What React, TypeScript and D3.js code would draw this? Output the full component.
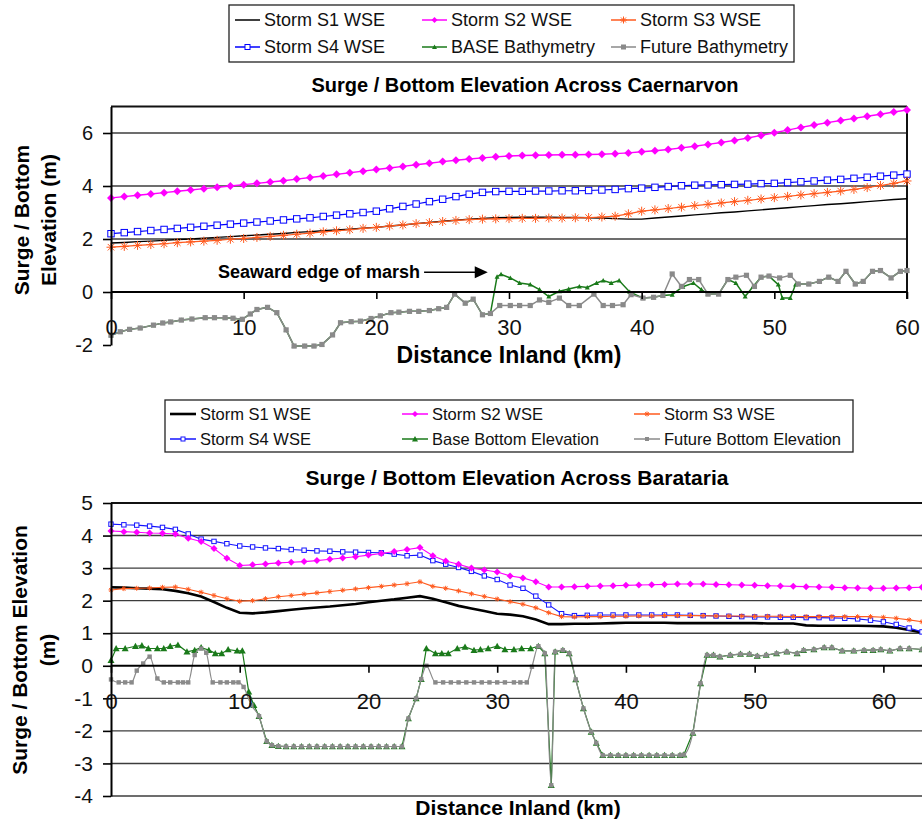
import { useEffect, useRef } from "react";
import * as d3 from "d3";

type Pt = [number, number];

// ---------- Caernarvon (upper panel) ----------
const caeKm = [0, 1, 2, 3, 4, 5, 6, 7, 8, 9, 10, 11, 12, 13, 14, 15, 16, 17, 18, 19, 20, 21, 22, 23, 24, 25, 26, 27, 28, 29, 30, 31, 32, 33, 34, 35, 36, 37, 38, 39, 40, 41, 42, 43, 44, 45, 46, 47, 48, 49, 50, 51, 52, 53, 54, 55, 56, 57, 58, 59, 60];
const caeS1 = [1.85, 1.87, 1.9, 1.92, 1.95, 1.98, 2.0, 2.03, 2.06, 2.09, 2.12, 2.15, 2.18, 2.21, 2.25, 2.28, 2.31, 2.34, 2.37, 2.41, 2.44, 2.49, 2.53, 2.58, 2.62, 2.67, 2.71, 2.75, 2.78, 2.8, 2.81, 2.82, 2.82, 2.82, 2.81, 2.81, 2.8, 2.79, 2.77, 2.75, 2.75, 2.79, 2.83, 2.87, 2.91, 2.95, 2.99, 3.02, 3.06, 3.1, 3.14, 3.18, 3.22, 3.26, 3.3, 3.33, 3.37, 3.41, 3.45, 3.49, 3.52];
const caeS2 = [3.55, 3.6, 3.65, 3.7, 3.75, 3.8, 3.85, 3.9, 3.95, 4.0, 4.05, 4.1, 4.15, 4.2, 4.26, 4.32, 4.38, 4.44, 4.5, 4.56, 4.62, 4.68, 4.74, 4.8, 4.86, 4.92, 4.97, 5.02, 5.06, 5.1, 5.13, 5.15, 5.16, 5.17, 5.18, 5.18, 5.19, 5.2, 5.22, 5.25, 5.29, 5.33, 5.38, 5.44, 5.5, 5.57, 5.64, 5.72, 5.81, 5.91, 6.01, 6.11, 6.21, 6.3, 6.39, 6.47, 6.55, 6.63, 6.71, 6.79, 6.87];
const caeS3 = [1.69, 1.72, 1.76, 1.79, 1.82, 1.86, 1.89, 1.92, 1.95, 1.99, 2.02, 2.06, 2.1, 2.14, 2.18, 2.22, 2.27, 2.31, 2.35, 2.4, 2.44, 2.49, 2.53, 2.58, 2.62, 2.66, 2.7, 2.73, 2.75, 2.76, 2.77, 2.78, 2.78, 2.79, 2.79, 2.8, 2.81, 2.83, 2.86, 2.95, 3.05, 3.1, 3.15, 3.2, 3.26, 3.31, 3.36, 3.41, 3.46, 3.51, 3.56, 3.61, 3.66, 3.71, 3.76, 3.81, 3.87, 3.94, 4.02, 4.1, 4.19];
const caeS4 = [2.2, 2.24, 2.28, 2.32, 2.36, 2.4, 2.44, 2.48, 2.52, 2.56, 2.6, 2.64, 2.68, 2.72, 2.76, 2.8, 2.85, 2.9, 2.95, 3.0, 3.05, 3.14, 3.23, 3.32, 3.41, 3.5, 3.6, 3.69, 3.76, 3.79, 3.8, 3.8, 3.81, 3.81, 3.82, 3.82, 3.83, 3.85, 3.87, 3.9, 3.92, 3.95, 3.98, 4.01, 4.03, 4.04, 4.05, 4.06, 4.07, 4.09, 4.1, 4.13, 4.16, 4.19, 4.22, 4.25, 4.29, 4.33, 4.37, 4.41, 4.45];
const caeBase: Pt[] = [[0, -1.63], [0.7, -1.5], [1.4, -1.41], [2.2, -1.36], [3.2, -1.25], [3.9, -1.17], [4.5, -1.13], [5.3, -1.06], [6.1, -1.02], [7.1, -0.97], [7.8, -0.97], [8.6, -0.97], [9.2, -0.99], [9.9, -1.03], [10.5, -0.83], [11, -0.66], [11.8, -0.58], [12.5, -0.78], [13.2, -1.43], [13.8, -2.04], [14.6, -2.04], [15.3, -2.04], [15.9, -1.98], [16.7, -1.62], [17.3, -1.16], [18.1, -1.12], [18.8, -1.1], [19.6, -1.0], [20.3, -0.9], [21.1, -0.78], [21.7, -0.76], [22.5, -0.73], [23.2, -0.73], [24, -0.7], [24.7, -0.63], [25.3, -0.58], [25.9, -0.08], [26.7, -0.42], [27.3, -0.27], [28, -0.86], [28.6, -0.81], [29.1, 0.58], [29.4, 0.67], [30.1, 0.53], [30.8, 0.34], [31.6, 0.28], [32.3, 0.09], [33, -0.17], [33.8, 0.03], [34.5, 0.11], [35.3, 0.21], [35.9, 0.17], [36.6, 0.34], [37.1, 0.43], [37.7, 0.34], [38.3, 0.43], [39.1, 0], [40.1, -0.23], [40.9, -0.2], [41.6, -0.13], [42.3, -0.1], [43.1, 0.2], [43.9, 0.34], [44.5, 0.09], [45, -0.08], [45.8, -0.08], [46.5, 0.47], [47.1, 0.34], [47.8, -0.17], [48.4, 0.21], [49, 0.56], [49.6, 0.6], [50.3, 0.28], [50.6, -0.23], [51.2, -0.23], [51.6, 0.28], [51.8, 0.3], [52.6, 0.3], [53.4, 0.4], [54.1, 0.56], [54.8, 0.4], [55.4, 0.78], [56.1, 0.3], [56.7, 0.4], [57.4, 0.78], [58, 0.81], [58.8, 0.53], [59.5, 0.78], [60, 0.81]];
const caeFuture: Pt[] = [[0, -1.63], [0.7, -1.5], [1.4, -1.41], [2.2, -1.36], [3.2, -1.25], [3.9, -1.17], [4.5, -1.13], [5.3, -1.06], [6.1, -1.02], [7.1, -0.97], [7.8, -0.97], [8.6, -0.97], [9.2, -0.99], [9.9, -1.03], [10.5, -0.83], [11, -0.66], [11.8, -0.58], [12.5, -0.78], [13.2, -1.43], [13.8, -2.04], [14.6, -2.04], [15.3, -2.04], [15.9, -1.98], [16.7, -1.62], [17.3, -1.16], [18.1, -1.12], [18.8, -1.1], [19.6, -1.0], [20.3, -0.9], [21.1, -0.78], [21.7, -0.76], [22.5, -0.73], [23.2, -0.73], [24, -0.7], [24.7, -0.63], [25.3, -0.58], [25.9, -0.08], [26.7, -0.42], [27.3, -0.27], [28, -0.86], [28.6, -0.81], [29.3, -0.51], [30.1, -0.51], [30.8, -0.51], [31.6, -0.51], [32.3, -0.3], [33, -0.39], [33.8, -0.23], [34.5, -0.51], [35.3, -0.51], [36.4, -0.08], [37.1, -0.51], [37.8, -0.51], [38.6, -0.48], [39.2, -0.1], [40.1, -0.23], [40.9, -0.2], [41.6, -0.13], [42.3, 0.68], [43, 0.21], [43.6, 0.47], [44.3, 0.47], [45, -0.08], [45.8, -0.08], [46.5, 0.47], [47.1, 0.56], [47.9, 0.63], [48.5, 0.21], [49, 0.56], [49.6, 0.6], [50.4, 0.53], [51.2, 0.63], [51.8, 0.3], [52.6, 0.3], [53.4, 0.4], [54.1, 0.56], [54.8, 0.4], [55.4, 0.78], [56.1, 0.3], [56.7, 0.4], [57.4, 0.78], [58, 0.81], [58.8, 0.53], [59.5, 0.78], [60, 0.81]];

// ---------- Barataria (lower panel) ----------
const barKm = [0, 1, 2, 3, 4, 5, 6, 7, 8, 9, 10, 11, 12, 13, 14, 15, 16, 17, 18, 19, 20, 21, 22, 23, 24, 25, 26, 27, 28, 29, 30, 31, 32, 33, 34, 35, 36, 37, 38, 39, 40, 41, 42, 43, 44, 45, 46, 47, 48, 49, 50, 51, 52, 53, 54, 55, 56, 57, 58, 59, 60, 61, 62, 63];
const barS1 = [2.41, 2.4, 2.38, 2.37, 2.35, 2.3, 2.23, 2.13, 1.96, 1.78, 1.63, 1.61, 1.64, 1.68, 1.72, 1.76, 1.79, 1.82, 1.86, 1.9, 1.95, 2.0, 2.04, 2.09, 2.14, 2.06, 1.95, 1.84, 1.76, 1.68, 1.6, 1.57, 1.52, 1.42, 1.28, 1.28, 1.29, 1.29, 1.3, 1.31, 1.32, 1.32, 1.32, 1.32, 1.31, 1.31, 1.31, 1.31, 1.31, 1.31, 1.31, 1.3, 1.3, 1.3, 1.24, 1.23, 1.23, 1.23, 1.23, 1.22, 1.21, 1.17, 1.1, 1.02];
const barS2 = [4.14, 4.12, 4.1, 4.08, 4.07, 4.05, 3.92, 3.82, 3.6, 3.3, 3.08, 3.1, 3.13, 3.16, 3.18, 3.2, 3.23, 3.27, 3.31, 3.35, 3.4, 3.45, 3.51, 3.57, 3.63, 3.38, 3.22, 3.12, 3.0, 2.94, 2.88, 2.76, 2.7, 2.58, 2.42, 2.42, 2.43, 2.44, 2.45, 2.46, 2.47, 2.48, 2.49, 2.5, 2.51, 2.51, 2.51, 2.5, 2.49, 2.48, 2.47, 2.46, 2.45, 2.44, 2.43, 2.42, 2.41, 2.4, 2.39, 2.38, 2.38, 2.39, 2.4, 2.41];
const barS3 = [2.33, 2.37, 2.38, 2.39, 2.41, 2.42, 2.35, 2.26, 2.16, 2.06, 1.98, 2.0, 2.06, 2.12, 2.16, 2.2, 2.24, 2.28, 2.32, 2.36, 2.4, 2.44, 2.48, 2.52, 2.58, 2.44, 2.38, 2.3, 2.21, 2.13, 2.05, 1.97, 1.89, 1.78, 1.63, 1.51, 1.5, 1.51, 1.51, 1.52, 1.52, 1.53, 1.53, 1.54, 1.54, 1.54, 1.54, 1.53, 1.53, 1.53, 1.52, 1.52, 1.52, 1.51, 1.51, 1.51, 1.51, 1.51, 1.51, 1.51, 1.49, 1.46, 1.41, 1.35];
const barS4 = [4.35, 4.33, 4.32, 4.29, 4.25, 4.19, 4.05, 3.89, 3.82, 3.75, 3.68, 3.65, 3.62, 3.6, 3.57, 3.55, 3.53, 3.52, 3.5, 3.49, 3.48, 3.47, 3.43, 3.38, 3.4, 3.23, 3.12, 3.02, 2.9, 2.76, 2.65, 2.48, 2.38, 2.14, 1.87, 1.6, 1.54, 1.55, 1.56, 1.56, 1.56, 1.56, 1.56, 1.56, 1.56, 1.55, 1.54, 1.53, 1.52, 1.51, 1.5, 1.5, 1.49, 1.49, 1.48, 1.48, 1.47, 1.46, 1.44, 1.4, 1.35, 1.27, 1.16, 1.04];
const barBase: Pt[] = [[0, 0.17], [0.4, 0.53], [1.1, 0.53], [1.9, 0.6], [2.4, 0.62], [2.9, 0.53], [3.6, 0.53], [4.1, 0.53], [4.6, 0.6], [5.2, 0.64], [5.9, 0.43], [6.5, 0.48], [7, 0.56], [7.6, 0.48], [8.1, 0.38], [8.6, 0.38], [9.1, 0.5], [9.8, 0.46], [10.2, 0.46], [10.7, -0.8], [11.1, -1.21], [11.5, -1.55], [12.1, -2.32], [12.5, -2.44], [13, -2.47], [13.6, -2.48], [14.2, -2.48], [14.8, -2.48], [15.4, -2.48], [16, -2.48], [16.6, -2.48], [17.2, -2.48], [17.8, -2.48], [18.4, -2.48], [19, -2.48], [19.6, -2.48], [20.2, -2.48], [20.8, -2.48], [21.4, -2.48], [22, -2.48], [22.6, -2.48], [23.1, -1.62], [23.7, -1.0], [24.1, -0.41], [24.5, 0.53], [25.2, 0.38], [25.7, 0.38], [26.2, 0.38], [26.9, 0.53], [27.5, 0.58], [28.2, 0.48], [28.7, 0.5], [29.3, 0.53], [30, 0.6], [30.6, 0.5], [31.3, 0.5], [31.9, 0.53], [32.6, 0.53], [33.2, 0.6], [33.7, 0.38], [34.2, -3.67], [34.5, 0.43], [35.1, 0.48], [35.6, 0.38], [36.1, -0.42], [36.7, -1.31], [37.3, -2.03], [37.7, -2.37], [38.2, -2.75], [38.8, -2.75], [39.4, -2.75], [40, -2.75], [40.6, -2.75], [41.2, -2.75], [41.8, -2.75], [42.4, -2.75], [43, -2.75], [43.6, -2.75], [44.2, -2.75], [44.5, -2.73], [45.2, -2.06], [45.8, -0.54], [46.3, 0.33], [46.8, 0.33], [47.3, 0.28], [48.1, 0.33], [48.9, 0.36], [49.6, 0.36], [50.2, 0.3], [50.9, 0.33], [51.7, 0.38], [52.5, 0.43], [53.3, 0.38], [53.8, 0.48], [54.6, 0.5], [55.4, 0.56], [56, 0.56], [56.8, 0.46], [57.7, 0.46], [58.5, 0.48], [59.2, 0.48], [59.8, 0.5], [60.5, 0.46], [61.3, 0.53], [62, 0.53], [63, 0.5]];
const barFuture: Pt[] = [[0, -0.42], [0.6, -0.51], [1.1, -0.51], [1.6, -0.51], [2, -0.15], [2.5, 0.07], [3, 0.28], [3.6, -0.39], [4.1, -0.51], [4.6, -0.51], [5.2, -0.51], [5.6, -0.51], [6, -0.51], [6.5, 0.33], [7, 0.53], [7.4, 0.4], [7.9, -0.51], [8.5, -0.51], [9, -0.51], [9.5, -0.51], [9.9, -0.51], [10.3, -0.65], [10.9, -1.21], [11.5, -1.55], [12.1, -2.32], [12.5, -2.44], [13, -2.47], [13.6, -2.48], [14.2, -2.48], [14.8, -2.48], [15.4, -2.48], [16, -2.48], [16.6, -2.48], [17.2, -2.48], [17.8, -2.48], [18.4, -2.48], [19, -2.48], [19.6, -2.48], [20.2, -2.48], [20.8, -2.48], [21.4, -2.48], [22, -2.48], [22.6, -2.48], [23.1, -1.62], [23.7, -1.0], [24.1, -0.41], [24.5, 0], [25.2, -0.51], [25.8, -0.51], [26.4, -0.51], [27, -0.51], [27.6, -0.51], [28.2, -0.51], [28.8, -0.51], [29.4, -0.51], [30, -0.51], [30.6, -0.51], [31.3, -0.51], [31.8, -0.51], [32.3, -0.51], [32.7, -0.03], [33.2, 0.6], [33.7, 0.38], [34.2, -3.67], [34.5, 0.43], [35.1, 0.48], [35.6, 0.38], [36.1, -0.42], [36.7, -1.31], [37.3, -2.03], [37.7, -2.37], [38.2, -2.75], [38.8, -2.75], [39.4, -2.75], [40, -2.75], [40.6, -2.75], [41.2, -2.75], [41.8, -2.75], [42.4, -2.75], [43, -2.75], [43.6, -2.75], [44.2, -2.75], [44.5, -2.73], [45.2, -2.06], [45.8, -0.54], [46.3, 0.33], [46.8, 0.33], [47.3, 0.28], [48.1, 0.33], [48.9, 0.36], [49.6, 0.36], [50.2, 0.3], [50.9, 0.33], [51.7, 0.38], [52.5, 0.43], [53.3, 0.38], [53.8, 0.48], [54.6, 0.5], [55.4, 0.56], [56, 0.56], [56.8, 0.46], [57.7, 0.46], [58.5, 0.48], [59.2, 0.48], [59.8, 0.5], [60.5, 0.46], [61.3, 0.53], [62, 0.53], [63, 0.5]];

// ticks and labels
const caeXTicks = [0, 10, 20, 30, 40, 50, 60];
const caeYTicks = [-2, 0, 2, 4, 6];
const caeGrid = [2, 4, 6];
const barXTicks = [0, 10, 20, 30, 40, 50, 60];
const barYTicks = [-4, -3, -2, -1, 0, 1, 2, 3, 4, 5];
const barGrid = [-4, -3, -2, -1, 1, 2, 3, 4];
// legend order: S1, S2, S3 / S4, base, future
const caeNames = ["Storm S1 WSE", "Storm S2 WSE", "Storm S3 WSE", "Storm S4 WSE", "BASE Bathymetry", "Future Bathymetry"];
const barNames = ["Storm S1 WSE", "Storm S2 WSE", "Storm S3 WSE", "Storm S4 WSE", "Base Bottom Elevation", "Future Bottom Elevation"];

const FONT = "'Liberation Sans', Arial, Helvetica, sans-serif";

const zip = (km: number[], v: number[]): Pt[] => km.map((k, i) => [k, v[i]]);

const addMarker = (g: any, kind: string, cx: number, cy: number, s: number, color: string) => {
  if (kind === "diamond") {
    g.append("path")
      .attr("d", `M${cx},${cy - s}L${cx + s},${cy}L${cx},${cy + s}L${cx - s},${cy}Z`)
      .attr("fill", color);
  } else if (kind === "opensq") {
    g.append("rect")
      .attr("x", cx - s).attr("y", cy - s)
      .attr("width", 2 * s).attr("height", 2 * s)
      .attr("fill", "white").attr("stroke", color).attr("stroke-width", 1);
  } else if (kind === "square") {
    g.append("rect")
      .attr("x", cx - s).attr("y", cy - s)
      .attr("width", 2 * s).attr("height", 2 * s)
      .attr("fill", color);
  } else if (kind === "star") {
    const d = s * 0.72;
    g.append("path")
      .attr("d", `M${cx - s},${cy}L${cx + s},${cy}M${cx},${cy - s}L${cx},${cy + s}M${cx - d},${cy - d}L${cx + d},${cy + d}M${cx - d},${cy + d}L${cx + d},${cy - d}`)
      .attr("stroke", color).attr("stroke-width", 1).attr("fill", "none");
  } else if (kind === "triangle") {
    g.append("path")
      .attr("d", `M${cx},${cy - s}L${cx + s},${cy + s * 0.8}L${cx - s},${cy + s * 0.8}Z`)
      .attr("fill", color);
  }
};

const drawPanel = (svg: any, cfg: any) => {
  const x = d3.scaleLinear().domain(cfg.xDomain).range(cfg.xRange);
  const y = d3.scaleLinear().domain(cfg.yDomain).range(cfg.yRange);
  const g = svg.append("g");
  const [x0, x1] = cfg.xRange;

  // grid
  g.selectAll(".grid")
    .data(cfg.grid)
    .enter()
    .append("line")
    .attr("x1", x0).attr("x2", x1)
    .attr("y1", (d: number) => y(d)).attr("y2", (d: number) => y(d))
    .attr("stroke", "#3c3c3c").attr("stroke-width", 1.4);

  // top border
  g.append("line")
    .attr("x1", x0).attr("x2", x1)
    .attr("y1", y(cfg.yDomain[1])).attr("y2", y(cfg.yDomain[1]))
    .attr("stroke", "#111").attr("stroke-width", 2);
  if (cfg.rightBorder) {
    g.append("line")
      .attr("x1", x1).attr("x2", x1)
      .attr("y1", y(cfg.yDomain[1])).attr("y2", y(0) + 7)
      .attr("stroke", "#111").attr("stroke-width", 2);
  }

  // series, in drawing order
  cfg.series.forEach((s: any) => {
    const line = d3.line<Pt>().x((d) => x(d[0])).y((d) => y(d[1]));
    if (s.smooth) line.curve(d3.curveMonotoneX);
    g.append("path")
      .datum(s.pts)
      .attr("d", line)
      .attr("fill", "none")
      .attr("stroke", s.color)
      .attr("stroke-width", s.width);
    if (s.marker !== "none") {
      const mg = g.append("g");
      s.pts.forEach((p: Pt) => addMarker(mg, s.marker, x(p[0]), y(p[1]), s.msize, s.color));
    }
  });

  // axes
  const yAxis = g.append("g")
    .attr("transform", `translate(${x0},0)`)
    .call(d3.axisLeft(y).tickValues(cfg.yTicks).tickSize(8).tickSizeOuter(0).tickPadding(10).tickFormat((d: any) => String(d)));
  yAxis.select(".domain").attr("stroke", "#000").attr("stroke-width", 2);
  yAxis.selectAll(".tick line").attr("stroke", "#000").attr("stroke-width", 1.6);
  yAxis.selectAll("text").attr("font-size", cfg.yTickFont).attr("font-family", FONT).attr("fill", "#111");

  const xAxis = g.append("g")
    .attr("transform", `translate(0,${y(0)})`)
    .call(d3.axisBottom(x).tickValues(cfg.xTicks).tickSize(7).tickSizeOuter(0).tickFormat((d: any) => String(d)));
  xAxis.select(".domain").attr("stroke", "#000").attr("stroke-width", 2).attr("d", `M${x0},0H${x1}`);
  xAxis.selectAll(".tick line").attr("stroke", "#000").attr("stroke-width", 1.6);
  xAxis.selectAll("text")
    .attr("y", cfg.xLabelOffset).attr("dy", "0.35em")
    .attr("font-size", cfg.xTickFont).attr("font-family", FONT).attr("fill", "#111");

  // titles
  g.append("text")
    .attr("x", cfg.title.x).attr("y", cfg.title.y)
    .attr("text-anchor", "middle").attr("font-family", FONT).attr("font-weight", "bold")
    .attr("font-size", cfg.title.size).text(cfg.title.text);
  g.append("text")
    .attr("x", cfg.xTitle.x).attr("y", cfg.xTitle.y)
    .attr("text-anchor", "middle").attr("font-family", FONT).attr("font-weight", "bold")
    .attr("font-size", cfg.xTitle.size).text("Distance Inland (km)");
  cfg.yTitle.lines.forEach((t: string, i: number) => {
    g.append("text")
      .attr("transform", `translate(${cfg.yTitle.xs[i]},${cfg.yTitle.cy}) rotate(-90)`)
      .attr("text-anchor", "middle").attr("font-family", FONT).attr("font-weight", "bold")
      .attr("font-size", cfg.yTitle.size).text(t);
  });

  // legend, in legend order
  const L = cfg.legend;
  const lg = svg.append("g");
  lg.append("rect")
    .attr("x", L.box[0]).attr("y", L.box[1]).attr("width", L.box[2]).attr("height", L.box[3])
    .attr("fill", "white").attr("stroke", "#222").attr("stroke-width", 1.3);
  const ordered = [...cfg.series].sort((a: any, b: any) => a.li - b.li);
  ordered.forEach((s: any, i: number) => {
    const col = i % 3;
    const row = Math.floor(i / 3);
    const lx = L.cols[col];
    const ly = L.rows[row];
    lg.append("line")
      .attr("x1", lx).attr("x2", lx + L.lineLen)
      .attr("y1", ly).attr("y2", ly)
      .attr("stroke", s.color).attr("stroke-width", Math.max(s.width, 1.5));
    if (s.marker !== "none") addMarker(lg, s.marker, lx + L.lineLen / 2, ly, s.legendSize, s.color);
    lg.append("text")
      .attr("x", lx + L.lineLen + 4).attr("y", ly).attr("dy", "0.35em")
      .attr("font-family", FONT).attr("font-size", L.font).attr("fill", "#111")
      .text(s.name);
  });

  return { x, y, g };
};

const App = () => {
  const ref = useRef<SVGSVGElement>(null);

  useEffect(() => {
    if (!ref.current) return;
    const svg = d3.select(ref.current);
    svg.selectAll("*").remove();

    const top = drawPanel(svg, {
      xDomain: [0, 60], xRange: [111, 907],
      yDomain: [-2, 7], yRange: [345, 106.5],
      grid: caeGrid, xTicks: caeXTicks, yTicks: caeYTicks,
      yTickFont: 20, xTickFont: 22, xLabelOffset: 35, rightBorder: true,
      title: { text: "Surge / Bottom Elevation Across Caernarvon", x: 525, y: 92, size: 20 },
      xTitle: { x: 509, y: 363, size: 23 },
      yTitle: { lines: ["Surge / Bottom", "Elevation (m)"], xs: [29, 56], cy: 220, size: 21 },
      legend: { box: [229, 5, 565, 57], cols: [235, 422, 611], rows: [20, 47], lineLen: 25, font: 18 },
      series: [
        { li: 4, name: caeNames[4], pts: caeBase, color: "#1a7a1a", width: 1.5, marker: "triangle", msize: 2.5, legendSize: 2.5 },
        { li: 5, name: caeNames[5], pts: caeFuture, color: "#8a8a8a", width: 1.5, marker: "square", msize: 2.6, legendSize: 2.5 },
        { li: 0, name: caeNames[0], pts: zip(caeKm, caeS1), color: "#000", width: 1.4, marker: "none", msize: 0 },
        { li: 3, name: caeNames[3], pts: zip(caeKm, caeS4), color: "#0000ff", width: 1.2, marker: "opensq", msize: 3.2, legendSize: 2.5 },
        { li: 2, name: caeNames[2], pts: zip(caeKm, caeS3), color: "#ff5a1e", width: 1.2, marker: "star", msize: 4.5, legendSize: 3.5 },
        { li: 1, name: caeNames[1], pts: zip(caeKm, caeS2), color: "#ff00ff", width: 1.4, marker: "diamond", msize: 4, legendSize: 3 },
      ],
    });

    // annotation
    const arrowY = top.y(0.75);
    top.g.append("text")
      .attr("x", top.x(23.3)).attr("y", arrowY).attr("dy", "0.35em")
      .attr("text-anchor", "end").attr("font-family", FONT).attr("font-weight", "bold")
      .attr("font-size", 18).text("Seaward edge of marsh");
    top.g.append("line")
      .attr("x1", top.x(23.6)).attr("x2", top.x(27.6))
      .attr("y1", arrowY).attr("y2", arrowY)
      .attr("stroke", "#000").attr("stroke-width", 1.5);
    const tip = top.x(28.4);
    top.g.append("path")
      .attr("d", `M${tip},${arrowY}L${tip - 13},${arrowY - 6}L${tip - 13},${arrowY + 6}Z`)
      .attr("fill", "#000");

    drawPanel(svg, {
      xDomain: [0, 63], xRange: [111, 922],
      yDomain: [-4, 5], yRange: [796, 503],
      grid: barGrid, xTicks: barXTicks, yTicks: barYTicks,
      yTickFont: 21, xTickFont: 22, xLabelOffset: 36, rightBorder: false,
      title: { text: "Surge / Bottom Elevation Across Barataria", x: 517, y: 485, size: 21 },
      xTitle: { x: 518, y: 815, size: 21 },
      yTitle: { lines: ["Surge / Bottom Elevation", "(m)"], xs: [27, 55], cy: 650, size: 21 },
      legend: { box: [165, 400, 688, 52], cols: [170, 402, 634], rows: [414, 439], lineLen: 26, font: 16.5 },
      series: [
        { li: 4, name: barNames[4], pts: barBase, color: "#1a7a1a", width: 1.2, marker: "triangle", msize: 3.5, legendSize: 3 },
        { li: 5, name: barNames[5], pts: barFuture, color: "#8a8a8a", width: 1.2, marker: "square", msize: 2.2, smooth: true, legendSize: 2 },
        { li: 0, name: barNames[0], pts: zip(barKm, barS1), color: "#000", width: 2.6, marker: "none", msize: 0 },
        { li: 3, name: barNames[3], pts: zip(barKm, barS4), color: "#1414ff", width: 1.1, marker: "opensq", msize: 2.2, legendSize: 2 },
        { li: 2, name: barNames[2], pts: zip(barKm, barS3), color: "#ff5a1e", width: 1.1, marker: "star", msize: 2.5, legendSize: 2.5 },
        { li: 1, name: barNames[1], pts: zip(barKm, barS2), color: "#ff00ff", width: 1.1, marker: "diamond", msize: 3.5, legendSize: 3 },
      ],
    });
  }, []);

  return (
    <div style={{ position: "absolute", left: 0, top: 0, background: "white" }}>
      <svg ref={ref} width={922} height={821} style={{ display: "block" }} />
    </div>
  );
};

export default App;
